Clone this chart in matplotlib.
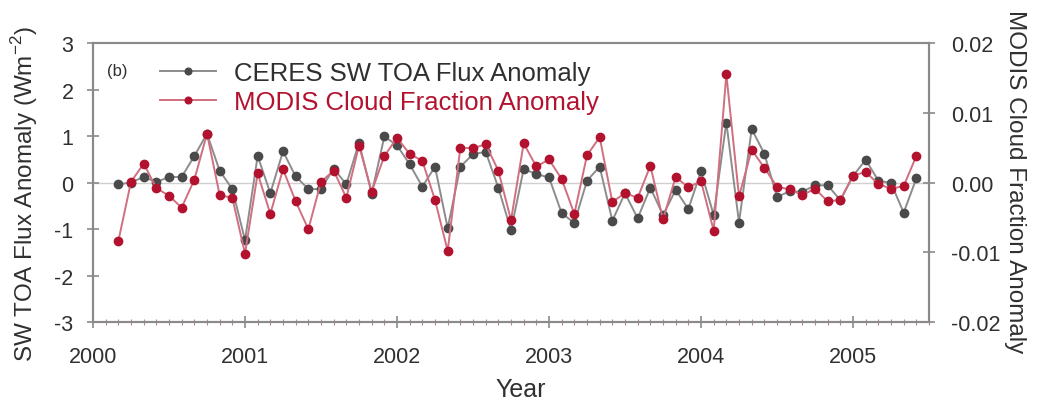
import numpy as np
import matplotlib.pyplot as plt
from matplotlib.ticker import MultipleLocator

# ============================================================
# DATA (monthly, Mar 2000 - Jun 2005)
# ============================================================

START_YEAR = 2000
START_MONTH = 3

ceres_sw = [
    -0.04, 0.00, 0.12, 0.01, 0.12, 0.12, 0.57, 1.05, 0.25, -0.14,
    -1.24, 0.57, -0.23, 0.67, 0.13, -0.14, -0.14, 0.30, -0.04, 0.86,
    -0.24, 0.99, 0.80, 0.39, -0.09, 0.34, -0.98, 0.34, 0.61, 0.66,
    -0.11, -1.03, 0.29, 0.18, 0.11, -0.66, -0.87, 0.04, 0.34, -0.82,
    -0.23, -0.77, -0.11, -0.70, -0.16, -0.57, 0.24, -0.70, 1.29, -0.86,
    1.15, 0.62, -0.31, -0.19, -0.20, -0.06, -0.06, -0.38, 0.14, 0.49,
    0.04, -0.01, -0.65, 0.09,
]

modis_cf = [
    -0.0084, 0.0001, 0.0027, -0.0008, -0.0019, -0.0036, 0.0004, 0.0070, -0.0018, -0.0022,
    -0.0102, 0.0013, -0.0045, 0.0019, -0.0027, -0.0067, 0.0001, 0.0017, -0.0022, 0.0053,
    -0.0013, 0.0038, 0.0064, 0.0041, 0.0031, -0.0025, -0.0098, 0.0050, 0.0049, 0.0055,
    0.0017, -0.0054, 0.0056, 0.0023, 0.0033, 0.0005, -0.0045, 0.0039, 0.0065, -0.0028,
    -0.0015, -0.0022, 0.0024, -0.0053, 0.0008, -0.0007, 0.0002, -0.0069, 0.0155, -0.0020,
    0.0047, 0.0021, -0.0006, -0.0010, -0.0018, -0.0009, -0.0027, -0.0025, 0.0010, 0.0015,
    -0.0002, -0.0009, -0.0005, 0.0038,
]

year_ticks = [2000, 2001, 2002, 2003, 2004, 2005]
left_ticks = [-3, -2, -1, 0, 1, 2, 3]
right_ticks = [-0.02, -0.01, 0.00, 0.01, 0.02]

# decimal year of each month
years = START_YEAR + (START_MONTH - 1 + np.arange(len(ceres_sw))) / 12.0


# ============================================================
# STYLE
# ============================================================

plt.rcParams["font.family"] = ["Liberation Sans", "DejaVu Sans"]
plt.rcParams["axes.unicode_minus"] = False

GRAY_MK = "#4a4a4a"
GRAY_LN = "#8c8c8c"
RED_MK = "#b3122f"
RED_LN = "#cf6f7f"
SPINE = "#8a8a8a"
TXT = "#303030"


# ============================================================
# PLOT
# ============================================================

fig = plt.figure(figsize=(10.38, 4.06), dpi=100)
ax = fig.add_axes([0.0896, 0.2044, 0.8054, 0.6872])
ax2 = ax.twinx()

ax.axhline(0, color="#d0d0d0", lw=1.0, zorder=1)

l1, = ax.plot(years, ceres_sw, "-o", color=GRAY_LN, mfc=GRAY_MK, mec=GRAY_MK,
              ms=6, lw=1.4, zorder=3, label="CERES SW TOA Flux Anomaly")
l2, = ax2.plot(years, modis_cf, "-o", color=RED_LN, mfc=RED_MK, mec=RED_MK,
               ms=6, lw=1.4, zorder=3, label="MODIS Cloud Fraction Anomaly")

ax.set_xlim(2000, 2005.5)
ax.set_ylim(-3, 3)
ax2.set_ylim(-0.02, 0.02)

ax.set_xticks(year_ticks)
ax.set_xticklabels([str(y) for y in year_ticks])
ax.xaxis.set_minor_locator(MultipleLocator(1 / 12))
ax.set_yticks(left_ticks)
ax.set_yticklabels([str(v) for v in left_ticks])
ax2.set_yticks(right_ticks)
ax2.set_yticklabels([f"{v:.2f}" for v in right_ticks])

for a in (ax, ax2):
    for s in a.spines.values():
        s.set_color(SPINE)
        s.set_linewidth(1.5)
    a.tick_params(which="major", direction="inout", length=8, width=1.2,
                  color=SPINE, labelsize=15.5, labelcolor=TXT)
    a.tick_params(which="minor", direction="inout", length=4, width=0.8,
                  color="#b08890")

ax.tick_params(axis="y", pad=10)
ax2.tick_params(axis="y", pad=12)
ax.tick_params(axis="x", pad=13)

# axis titles placed in figure coords
fig.text(0.502, 0.039, "Year", fontsize=18, color=TXT, ha="center", va="center")
fig.text(0.0241, 0.522, "SW TOA Flux Anomaly (Wm$^{\\mathregular{-2}}$)", fontsize=17.5,
         color=TXT, rotation=90, ha="center", va="center")
fig.text(0.978, 0.552, "MODIS Cloud Fraction Anomaly", fontsize=17.5,
         color=TXT, rotation=-90, ha="center", va="center")

ax.text(0.0167, 0.90, "(b)", transform=ax.transAxes, fontsize=12, color=TXT,
        va="center", ha="left")

leg = ax2.legend(handles=[l1, l2], loc="upper left", bbox_to_anchor=(0.080, 0.935),
                 frameon=False, fontsize=18.5, handlelength=2.2, handletextpad=0.7,
                 labelspacing=0.17, borderpad=0, borderaxespad=0, markerscale=0.8,
                 labelcolor=[TXT, RED_MK])

fig.savefig("out.png", dpi=100)
